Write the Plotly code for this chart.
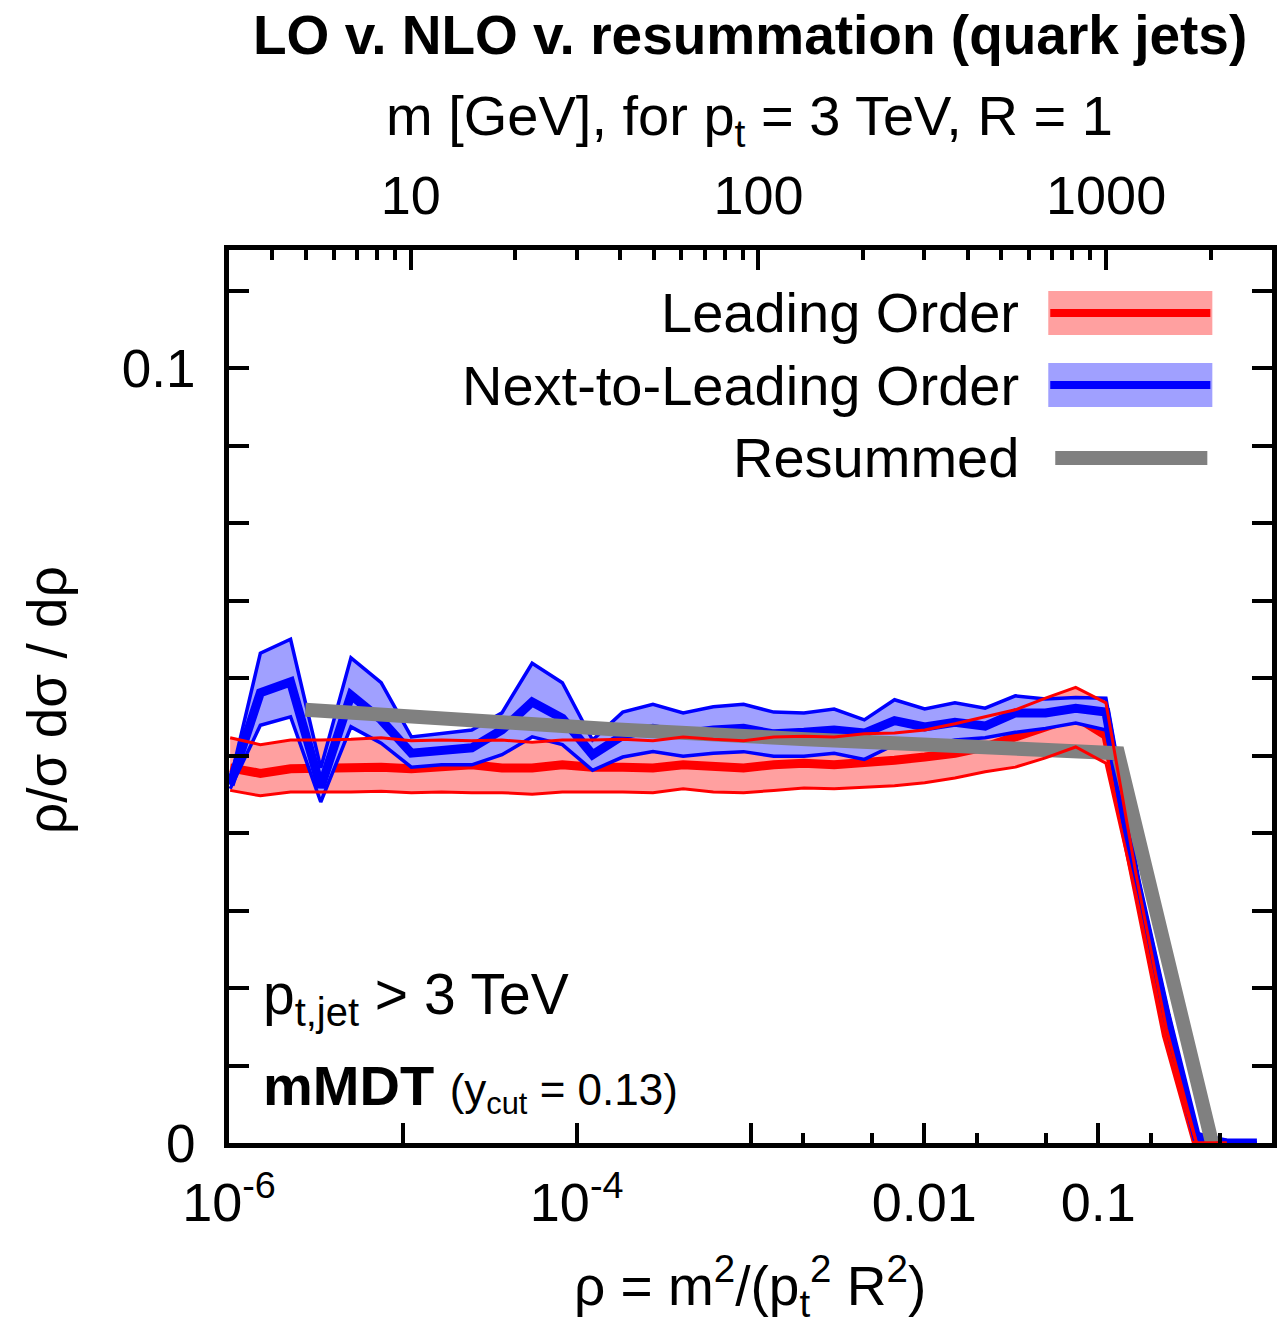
import plotly.graph_objects as go

# bin centres in rho (bins of width 0.4 in ln rho)
rho = [1.0155e-6, 1.5150e-6, 2.2603e-6, 3.3720e-6, 5.0304e-6, 7.5045e-6,
       1.1196e-5, 1.6702e-5, 2.4917e-5, 3.7172e-5, 5.5452e-5, 8.2724e-5,
       1.2341e-4, 1.8411e-4, 2.7465e-4, 4.0973e-4, 6.1125e-4, 9.1188e-4,
       1.3604e-3, 2.0294e-3, 3.0276e-3, 4.5166e-3, 6.7379e-3, 1.0052e-2,
       1.4996e-2, 2.2371e-2, 3.3373e-2, 4.9787e-2, 7.4274e-2, 0.11080,
       0.16530, 0.24660, 0.36788, 0.54881, 0.81873]

# leading order: central value and scale-variation band
lo_central = [0.0484, 0.0477, 0.0483, 0.0484, 0.0485, 0.0485, 0.0483, 0.0485, 0.0488,
              0.0484, 0.0484, 0.0488, 0.0485, 0.0485, 0.0484, 0.0488, 0.0485, 0.0484,
              0.0488, 0.0490, 0.0488, 0.0490, 0.0494, 0.0498, 0.0503, 0.0511, 0.0523,
              0.0535, 0.0550, 0.0526, 0.0333, 0.0139, 0.0, 0.0]
lo_upper = [0.0523, 0.0514, 0.0520, 0.0520, 0.0521, 0.0523, 0.0519, 0.0520, 0.0519,
            0.0520, 0.0517, 0.0520, 0.0520, 0.0521, 0.0519, 0.0524, 0.0521, 0.0519,
            0.0524, 0.0525, 0.0524, 0.0528, 0.0529, 0.0533, 0.0541, 0.0550, 0.0559,
            0.0574, 0.0588, 0.0568, 0.0346, 0.0148, 0.0, 0.0]
lo_lower = [0.0455, 0.0448, 0.0453, 0.0453, 0.0453, 0.0454, 0.0452, 0.0453, 0.0452,
            0.0452, 0.0450, 0.0453, 0.0453, 0.0453, 0.0452, 0.0457, 0.0453, 0.0452,
            0.0455, 0.0458, 0.0457, 0.0459, 0.0461, 0.0465, 0.0471, 0.0479, 0.0485,
            0.0497, 0.0511, 0.0490, 0.0320, 0.0130, 0.0, 0.0]

# next-to-leading order: central value and band
nlo_central = [0.0462, 0.0581, 0.0595, 0.0459, 0.0578, 0.0546, 0.0503, 0.0506, 0.0510,
               0.0533, 0.0569, 0.0548, 0.0501, 0.0526, 0.0535, 0.0528, 0.0533, 0.0535,
               0.0528, 0.0530, 0.0533, 0.0529, 0.0545, 0.0537, 0.0543, 0.0538, 0.0555,
               0.0555, 0.0561, 0.0556, 0.0339, 0.0165, 0.0008, 0.0, 0.0]
nlo_upper = [0.0467, 0.0632, 0.0650, 0.0484, 0.0626, 0.0594, 0.0524, 0.0529, 0.0533,
             0.0555, 0.0619, 0.0594, 0.0520, 0.0556, 0.0566, 0.0555, 0.0563, 0.0566,
             0.0556, 0.0555, 0.0560, 0.0546, 0.0572, 0.0560, 0.0568, 0.0561, 0.0577,
             0.0573, 0.0575, 0.0574, 0.0352, 0.0178, 0.0013, 0.0, 0.0]
nlo_lower = [0.0457, 0.0539, 0.0550, 0.0440, 0.0537, 0.0516, 0.0485, 0.0488, 0.0488,
             0.0501, 0.0524, 0.0514, 0.0481, 0.0498, 0.0505, 0.0499, 0.0503, 0.0505,
             0.0499, 0.0499, 0.0503, 0.0495, 0.0514, 0.0511, 0.0520, 0.0523, 0.0530,
             0.0535, 0.0542, 0.0533, 0.0326, 0.0152, 0.0004, 0.0, 0.0]

# resummed prediction
res_rho = [2.75e-6, 1.29e-5, 1.62e-4, 2.09e-3, 2.63e-2, 0.107, 0.13, 0.452]
res_val = [0.0559, 0.0548, 0.0534, 0.0521, 0.0512, 0.0507, 0.0503, 0.0]

# axis ticks
x_major = [1e-6, 1e-5, 1e-4, 1e-3, 1e-2, 1e-1, 1]
x_major_text = ["10<sup>-6</sup>", "", "10<sup>-4</sup>", "", "0.01", "0.1", "1"]
x_minor = [2e-3, 5e-3, 2e-2, 5e-2, 0.2, 0.5]
m_major = [10, 100, 1000]
m_minor = [4, 5, 6, 7, 8, 9, 20, 30, 40, 50, 60, 70, 80, 90,
           200, 300, 400, 500, 600, 700, 800, 900, 2000]
y_major = [0, 0.1]
y_minor = [0.01, 0.02, 0.03, 0.04, 0.05, 0.06, 0.07, 0.08, 0.09, 0.11]

RED = "#ff0000"
RED_FILL = "#ffa0a0"
BLUE = "#0000ff"
BLUE_FILL = "#a0a0ff"
GREY = "#808080"
FONT = "Liberation Sans, Arial, sans-serif"

n_lo = len(lo_central)
rho_lo = rho[:n_lo]

fig = go.Figure()

# LO band fill
fig.add_trace(go.Scatter(x=rho_lo, y=lo_upper, mode="lines",
                         line=dict(width=0, color=RED_FILL), hoverinfo="skip"))
fig.add_trace(go.Scatter(x=rho_lo, y=lo_lower, mode="lines", fill="tonexty",
                         fillcolor=RED_FILL, line=dict(width=0, color=RED_FILL),
                         hoverinfo="skip"))
# LO central
fig.add_trace(go.Scatter(x=rho_lo, y=lo_central, mode="lines",
                         line=dict(width=9, color=RED)))
# NLO band
fig.add_trace(go.Scatter(x=rho, y=nlo_upper, mode="lines",
                         line=dict(width=0, color=BLUE_FILL), hoverinfo="skip"))
fig.add_trace(go.Scatter(x=rho, y=nlo_lower, mode="lines", fill="tonexty",
                         fillcolor=BLUE_FILL, line=dict(width=0, color=BLUE_FILL),
                         hoverinfo="skip"))
fig.add_trace(go.Scatter(x=rho, y=nlo_central, mode="lines",
                         line=dict(width=9, color=BLUE)))
fig.add_trace(go.Scatter(x=rho, y=nlo_upper, mode="lines",
                         line=dict(width=3.5, color=BLUE)))
fig.add_trace(go.Scatter(x=rho, y=nlo_lower, mode="lines",
                         line=dict(width=3.5, color=BLUE)))
# resummed
fig.add_trace(go.Scatter(x=res_rho, y=res_val, mode="lines",
                         line=dict(width=14, color=GREY)))
# LO band edges
fig.add_trace(go.Scatter(x=rho_lo, y=lo_upper, mode="lines",
                         line=dict(width=3, color=RED)))
fig.add_trace(go.Scatter(x=rho_lo, y=lo_lower, mode="lines",
                         line=dict(width=3, color=RED)))

# carrier for the top mass axis
fig.add_trace(go.Scatter(x=[3, 3000], y=[None, None], xaxis="x2", mode="lines",
                         hoverinfo="skip"))

axis_common = dict(showgrid=False, zeroline=False, ticks="inside",
                   tickcolor="black", tickwidth=4, showline=True,
                   linecolor="black", linewidth=5)

fig.update_layout(
    width=1282, height=1323,
    margin=dict(l=229, r=5, t=250, b=180),
    paper_bgcolor="white", plot_bgcolor="white",
    showlegend=False,
    font=dict(family=FONT, size=54, color="black"),
    xaxis=dict(type="log", range=[-6, 0], mirror=True,
               tickmode="array", tickvals=x_major, ticktext=x_major_text,
               ticklen=20, ticklabelstandoff=8,
               minor=dict(tickmode="array", tickvals=x_minor, ticks="inside",
                          ticklen=10, tickwidth=4, tickcolor="black"),
               tickfont=dict(size=54), **axis_common),
    xaxis2=dict(type="log", range=[0.47712, 3.47712], overlaying="x", side="top",
                anchor="y", tickmode="array", tickvals=m_major,
                ticktext=["10", "100", "1000"], ticks="inside", ticklen=20,
                tickwidth=4, tickcolor="black", showgrid=False, zeroline=False,
                showline=False, ticklabelstandoff=24,
                minor=dict(tickmode="array", tickvals=m_minor, ticks="inside",
                           ticklen=10, tickwidth=4, tickcolor="black"),
                tickfont=dict(size=54)),
    yaxis=dict(range=[0, 0.11523], mirror="allticks",
               tickmode="array", tickvals=y_major, ticktext=["0", "0.1"],
               ticklen=20, ticklabelstandoff=18,
               minor=dict(tickmode="array", tickvals=y_minor, ticks="inside",
                          ticklen=10, tickwidth=4, tickcolor="black"),
               tickfont=dict(size=53), **axis_common),
)

# hand-made key in the upper right
legend_rows = [
    ("Leading Order", 0.9295, RED_FILL, RED, 8),
    ("Next-to-Leading Order", 0.8488, BLUE_FILL, BLUE, 8),
    ("Resummed", 0.7671, None, GREY, 14),
]
for label, yc, fill, colour, lw in legend_rows:
    if fill is not None:
        fig.add_shape(type="rect", xref="paper", yref="paper",
                      x0=0.7855, x1=0.9428, y0=yc - 0.0246, y1=yc + 0.0246,
                      fillcolor=fill, line=dict(width=0))
        fig.add_shape(type="line", xref="paper", yref="paper",
                      x0=0.7874, x1=0.9409, y0=yc, y1=yc,
                      line=dict(color=colour, width=lw))
    else:
        fig.add_shape(type="line", xref="paper", yref="paper",
                      x0=0.7922, x1=0.938, y0=yc, y1=yc,
                      line=dict(color=colour, width=lw))
    fig.add_annotation(text=label, xref="paper", yref="paper", x=0.7595, y=yc,
                       xanchor="right", yanchor="middle", showarrow=False,
                       font=dict(size=56))

# text labels
fig.add_annotation(text="p<sub>t,jet</sub> &gt; 3 TeV", xref="paper", yref="paper",
                   x=0.0305, y=0.162, xanchor="left", yanchor="middle",
                   showarrow=False, font=dict(size=57))
fig.add_annotation(text="<b>mMDT</b> <span style='font-size:44px'>(y<sub>cut</sub> = 0.13)</span>",
                   xref="paper", yref="paper", x=0.0305, y=0.062,
                   xanchor="left", yanchor="middle", showarrow=False,
                   font=dict(size=56))
fig.add_annotation(text="<b>LO v. NLO v. resummation (quark jets)</b>",
                   xref="paper", yref="paper", x=0.4995, y=1.2408,
                   xanchor="center", yanchor="middle", showarrow=False,
                   font=dict(size=55))
fig.add_annotation(text="m [GeV], for p<sub>t</sub> = 3 TeV, R = 1",
                   xref="paper", yref="paper", x=0.4995, y=1.1456,
                   xanchor="center", yanchor="middle", showarrow=False,
                   font=dict(size=56))
fig.add_annotation(text="ρ = m<sup>2</sup>/(p<sub>t</sub><sup>2</sup> R<sup>2</sup>)",
                   xref="paper", yref="paper", x=0.4995, y=-0.16,
                   xanchor="center", yanchor="middle", showarrow=False,
                   font=dict(size=55))
fig.add_annotation(text="ρ/σ dσ / dρ", xref="paper", yref="paper",
                   x=-0.1745, y=0.496, xanchor="center", yanchor="middle",
                   textangle=-90, showarrow=False, font=dict(size=55))

fig.write_html("out.html")
